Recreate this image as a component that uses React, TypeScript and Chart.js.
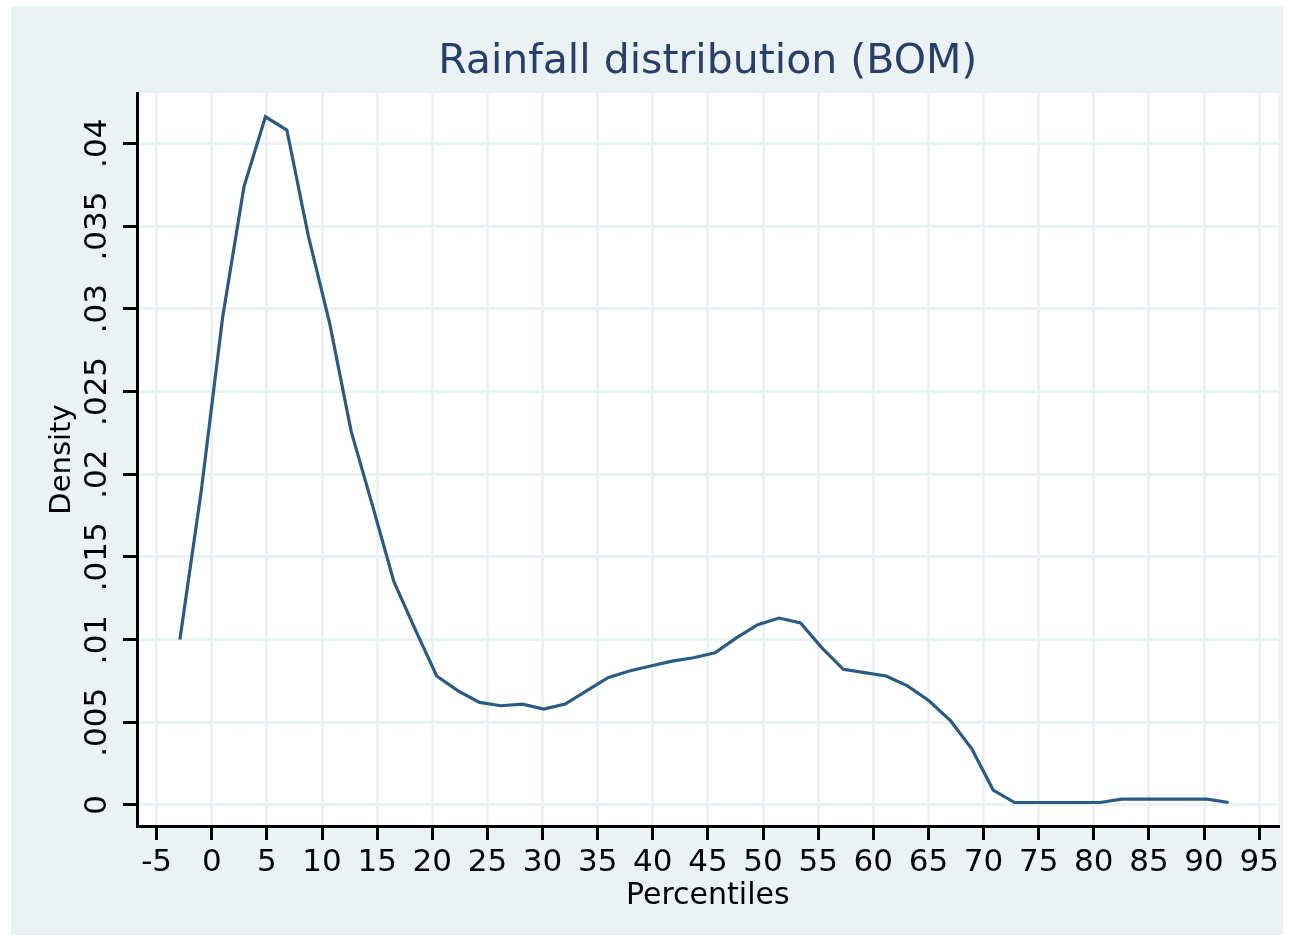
import { useEffect, useRef } from "react";
import { Chart, registerables } from "chart.js";

Chart.register(...registerables);

// Kernel density of rainfall percentiles
const percentiles = [
  -2.89, -0.95, 0.99, 2.93, 4.87, 6.81, 8.76, 10.7, 12.64, 14.58,
  16.52, 18.46, 20.4, 22.34, 24.28, 26.22, 28.17, 30.11, 32.05, 33.99,
  35.93, 37.87, 39.81, 41.75, 43.69, 45.64, 47.58, 49.52, 51.46, 53.4,
  55.34, 57.28, 59.22, 61.16, 63.1, 65.05, 66.99, 68.93, 70.87, 72.81,
  74.75, 76.69, 78.63, 80.57, 82.51, 84.46, 86.4, 88.34, 90.28, 92.22,
];
const density = [
  0.01, 0.019, 0.0295, 0.0374, 0.0416, 0.0408, 0.0344, 0.0291, 0.0226, 0.0181,
  0.0135, 0.0106, 0.0078, 0.0069, 0.0062, 0.006, 0.0061, 0.0058, 0.0061, 0.0069,
  0.0077, 0.0081, 0.0084, 0.0087, 0.0089, 0.0092, 0.0101, 0.0109, 0.0113, 0.011,
  0.0095, 0.0082, 0.008, 0.0078, 0.0072, 0.0063, 0.0051, 0.0034, 0.0009, 0.00015,
  0.00015, 0.00015, 0.00015, 0.00015, 0.00035, 0.00035, 0.00035, 0.00035, 0.00035, 0.00015,
];
const yTickValues = [0, 0.005, 0.01, 0.015, 0.02, 0.025, 0.03, 0.035, 0.04];
const yTickLabels = ["0", ".005", ".01", ".015", ".02", ".025", ".03", ".035", ".04"];

const TITLE = "Rainfall distribution (BOM)";
const X_TITLE = "Percentiles";
const Y_TITLE = "Density";

const FONT = "'DejaVu Sans', 'Noto Sans', sans-serif";
const BG = "#EAF2F3";
const LINE = "#2a5b84";
const TITLE_COLOR = "#283e6c";

export default function App() {
  const ref = useRef<HTMLCanvasElement | null>(null);

  useEffect(() => {
    if (!ref.current) return;

    const plotBg = {
      id: "plotBg",
      beforeDraw(chart: any) {
        const { ctx, chartArea: a } = chart;
        ctx.save();
        ctx.fillStyle = "#ffffff";
        ctx.fillRect(a.left, a.top, a.right - a.left, a.bottom - a.top);
        ctx.restore();
      },
    };

    const extras = {
      id: "extras",
      afterDraw(chart: any) {
        const { ctx, chartArea: a } = chart;
        ctx.save();
        // title centred over plot region
        ctx.fillStyle = TITLE_COLOR;
        ctx.font = `41px ${FONT}`;
        ctx.textAlign = "center";
        ctx.textBaseline = "middle";
        ctx.fillText(TITLE, (a.left + a.right) / 2, 56);
        // rotated y tick labels
        const ys = chart.scales.y;
        ctx.fillStyle = "#000";
        ctx.font = `31px ${FONT}`;
        ys.ticks.forEach((t: any) => {
          let idx = -1;
          yTickValues.forEach((v, i) => {
            if (Math.abs(v - t.value) < 1e-9) idx = i;
          });
          if (idx < 0) return;
          const py = ys.getPixelForValue(t.value);
          ctx.save();
          ctx.translate(87, py);
          ctx.rotate(-Math.PI / 2);
          ctx.textAlign = "center";
          ctx.textBaseline = "middle";
          ctx.fillText(yTickLabels[idx], 0, 0);
          ctx.restore();
        });
        ctx.restore();
      },
    };

    const chart = new Chart(ref.current, {
      type: "line",
      data: {
        datasets: [
          {
            data: percentiles.map((x, i) => ({ x, y: density[i] })),
            borderColor: LINE,
            borderWidth: 3.2,
            pointRadius: 0,
            tension: 0,
            fill: false,
          },
        ],
      },
      options: {
        responsive: false,
        animation: false,
        devicePixelRatio: 1,
        layout: { padding: { top: 87, right: 3, bottom: 0, left: 0 } },
        plugins: {
          legend: { display: false },
          tooltip: { enabled: false },
          title: { display: false },
        },
        scales: {
          x: {
            type: "linear",
            min: -6.78,
            max: 96.75,
            afterFit: (s: any) => {
              s.height = 109;
            },
            ticks: {
              stepSize: 5,
              includeBounds: false,
              autoSkip: false,
              maxRotation: 0,
              minRotation: 0,
              padding: 4,
              color: "#000",
              font: { family: FONT, size: 31 },
            },
            grid: {
              color: BG,
              lineWidth: 3,
              tickColor: "#000",
              tickWidth: 3,
              tickLength: 14,
              drawTicks: true,
            },
            border: { display: true, color: "#000", width: 3 },
            title: {
              display: true,
              text: X_TITLE,
              color: "#000",
              font: { family: FONT, size: 30 },
              padding: { top: 0, bottom: 21 },
            },
          },
          y: {
            type: "linear",
            min: -0.00127,
            max: 0.04304,
            afterFit: (s: any) => {
              s.width = 126;
            },
            ticks: {
              stepSize: 0.005,
              includeBounds: false,
              display: false,
            },
            grid: {
              color: BG,
              lineWidth: 3,
              tickColor: "#000",
              tickWidth: 3,
              tickLength: 14,
              drawTicks: true,
            },
            border: { display: true, color: "#000", width: 3 },
            title: {
              display: true,
              text: Y_TITLE,
              color: "#000",
              font: { family: FONT, size: 29 },
              padding: { top: 34, bottom: 0 },
            },
          },
        },
      },
      plugins: [plotBg, extras],
    } as any);

    return () => chart.destroy();
  }, []);

  return (
    <div
      style={{
        position: "absolute",
        left: 0,
        top: 0,
        width: 1290,
        height: 941,
        background: "#ffffff",
      }}
    >
      <div
        style={{
          position: "absolute",
          left: 11,
          top: 6,
          width: 1272,
          height: 929,
          background: BG,
        }}
      >
        <canvas ref={ref} width={1272} height={929} style={{ display: "block" }} />
      </div>
    </div>
  );
}
